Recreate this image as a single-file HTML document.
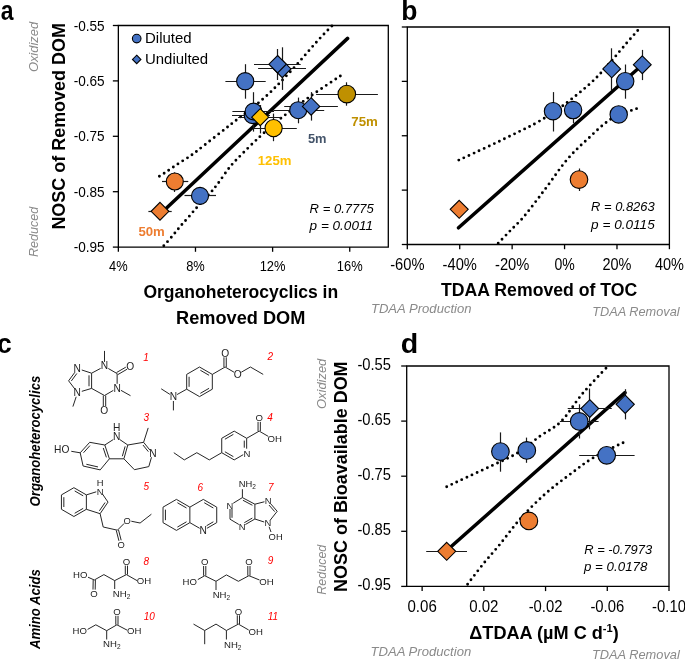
<!DOCTYPE html><html><head><meta charset="utf-8"><style>html,body{margin:0;padding:0;background:#fff;width:685px;height:660px;overflow:hidden}svg{display:block;font-family:"Liberation Sans",sans-serif;will-change:transform}</style></head><body>
<svg width="685" height="660" viewBox="0 0 685 660">
<rect width="685" height="660" fill="#fff"/>
<text transform="translate(0.73 19.9) scale(0.85 1)" x="0" y="0" font-size="27" font-weight="bold">a</text>
<text transform="translate(401.15 19.8) scale(0.98 1)" x="0" y="0" font-size="27" font-weight="bold">b</text>
<text transform="translate(-3 353.2) scale(0.98 1)" x="0" y="0" font-size="27" font-weight="bold">c</text>
<text transform="translate(400.72 352.5) scale(1.06 1)" x="0" y="0" font-size="27" font-weight="bold">d</text>
<path d="M118.35 25.5H388.3V247.1H118.35Z" fill="none" stroke="#000" stroke-width="1.3"/>
<line x1="112.85" y1="25.5" x2="118.35" y2="25.5" stroke="#000" stroke-width="1.3"/>
<line x1="112.85" y1="80.9" x2="118.35" y2="80.9" stroke="#000" stroke-width="1.3"/>
<line x1="112.85" y1="136.3" x2="118.35" y2="136.3" stroke="#000" stroke-width="1.3"/>
<line x1="112.85" y1="191.7" x2="118.35" y2="191.7" stroke="#000" stroke-width="1.3"/>
<line x1="112.85" y1="247.1" x2="118.35" y2="247.1" stroke="#000" stroke-width="1.3"/>
<line x1="118.35" y1="247.1" x2="118.35" y2="251.8" stroke="#000" stroke-width="1.3"/>
<line x1="195.48" y1="247.1" x2="195.48" y2="251.8" stroke="#000" stroke-width="1.3"/>
<line x1="272.61" y1="247.1" x2="272.61" y2="251.8" stroke="#000" stroke-width="1.3"/>
<line x1="349.74" y1="247.1" x2="349.74" y2="251.8" stroke="#000" stroke-width="1.3"/>
<text x="104.7" y="30.5" font-size="14.3" text-anchor="end" textLength="31" lengthAdjust="spacingAndGlyphs">-0.55</text>
<text x="104.7" y="85.9" font-size="14.3" text-anchor="end" textLength="31" lengthAdjust="spacingAndGlyphs">-0.65</text>
<text x="104.7" y="141.3" font-size="14.3" text-anchor="end" textLength="31" lengthAdjust="spacingAndGlyphs">-0.75</text>
<text x="104.7" y="196.7" font-size="14.3" text-anchor="end" textLength="31" lengthAdjust="spacingAndGlyphs">-0.85</text>
<text x="104.7" y="252.1" font-size="14.3" text-anchor="end" textLength="31" lengthAdjust="spacingAndGlyphs">-0.95</text>
<text x="118.35" y="271.3" font-size="14.3" text-anchor="middle" textLength="18.6" lengthAdjust="spacingAndGlyphs">4%</text>
<text x="195.48" y="271.3" font-size="14.3" text-anchor="middle" textLength="18.6" lengthAdjust="spacingAndGlyphs">8%</text>
<text x="272.61" y="271.3" font-size="14.3" text-anchor="middle" textLength="25.8" lengthAdjust="spacingAndGlyphs">12%</text>
<text x="349.74" y="271.3" font-size="14.3" text-anchor="middle" textLength="25.8" lengthAdjust="spacingAndGlyphs">16%</text>
<text x="64.8" y="229.6" font-size="18.8" font-weight="bold" textLength="206.5" lengthAdjust="spacingAndGlyphs" transform="rotate(-90 64.8 229.6)">NOSC of Removed DOM</text>
<text x="38.2" y="72.1" font-size="13.5" font-style="italic" fill="#8a8a8a" textLength="50.2" lengthAdjust="spacingAndGlyphs" transform="rotate(-90 38.2 72.1)">Oxidized</text>
<text x="38.4" y="257" font-size="13.5" font-style="italic" fill="#8a8a8a" textLength="50.2" lengthAdjust="spacingAndGlyphs" transform="rotate(-90 38.4 257)">Reduced</text>
<text x="240.8" y="298.1" font-size="18.8" text-anchor="middle" font-weight="bold" textLength="194.8" lengthAdjust="spacingAndGlyphs">Organoheterocyclics in</text>
<text x="240.7" y="323.9" font-size="18.8" text-anchor="middle" font-weight="bold" textLength="129.3" lengthAdjust="spacingAndGlyphs">Removed DOM</text>
<circle cx="136.7" cy="38.6" r="4.3" fill="#4472C4" stroke="#000" stroke-width="1.1"/>
<path d="M136.7 55.2L140.9 59.4L136.7 63.6L132.5 59.4Z" fill="#4472C4" stroke="#000" stroke-width="1.1"/>
<text x="145" y="43.3" font-size="15.3" textLength="46.6" lengthAdjust="spacingAndGlyphs">Diluted</text>
<text x="145" y="64.4" font-size="15.3" textLength="63.2" lengthAdjust="spacingAndGlyphs">Undiulted</text>
<text x="309.6" y="212.7" font-size="13.5" font-style="italic" textLength="64.2" lengthAdjust="spacingAndGlyphs">R = 0.7775</text>
<text x="309.6" y="230.2" font-size="13.5" font-style="italic" textLength="63.4" lengthAdjust="spacingAndGlyphs">p = 0.0011</text>
<path d="M159.4 176.3 C160.42 175.65 163.3 173.87 165.5 172.4 C167.7 170.93 170.12 169.18 172.6 167.5 C175.08 165.82 177.63 164.1 180.4 162.3 C183.17 160.5 186.42 158.6 189.2 156.7 C191.98 154.8 190.3 156.18 197.1 150.9 C203.9 145.62 218.95 133.72 230 125 C241.05 116.28 253.4 107.43 263.4 98.6 C273.4 89.77 281.05 81.53 290 72 C298.95 62.47 309.88 49.32 317.1 41.4 C324.32 33.48 330.6 27.32 333.3 24.5" fill="none" stroke="#000" stroke-width="2.9" stroke-linecap="round" stroke-dasharray="0 5.6"/>
<path d="M163.8 245.8 C165.27 244.13 169.83 239.07 172.6 235.8 C175.37 232.53 177.78 229.27 180.4 226.2 C183.02 223.13 185.37 220.75 188.3 217.4 C191.23 214.05 194.2 210.33 198 206.1 C201.8 201.87 207.75 195.8 211.1 192 C214.45 188.2 215.03 187.38 218.1 183.3 C221.17 179.22 226 171.88 229.5 167.5 C233 163.12 234.02 162.17 239.1 157 C244.18 151.83 253.18 142.83 260 136.5 C266.82 130.17 271.67 125.67 280 119 C288.33 112.33 299.25 104.13 310 96.5 C320.75 88.87 338.75 77.08 344.5 73.2" fill="none" stroke="#000" stroke-width="2.9" stroke-linecap="round" stroke-dasharray="0 5.6"/>
<line x1="161.5" y1="212.7" x2="347.6" y2="38.4" stroke="#000" stroke-width="3.5" stroke-linecap="round"/>
<line x1="148.4" y1="211.5" x2="171.7" y2="211.5" stroke="#1a1a1a" stroke-width="1.2"/>
<line x1="160.5" y1="205" x2="160.5" y2="217" stroke="#1a1a1a" stroke-width="1.2"/>
<line x1="162" y1="181.5" x2="188.3" y2="181.5" stroke="#1a1a1a" stroke-width="1.2"/>
<line x1="174.5" y1="172.4" x2="174.5" y2="192" stroke="#1a1a1a" stroke-width="1.2"/>
<line x1="184.5" y1="195.5" x2="216" y2="195.5" stroke="#1a1a1a" stroke-width="1.2"/>
<line x1="200.5" y1="188" x2="200.5" y2="204" stroke="#1a1a1a" stroke-width="1.2"/>
<line x1="225.4" y1="81.5" x2="265.7" y2="81.5" stroke="#1a1a1a" stroke-width="1.2"/>
<line x1="245.5" y1="64.2" x2="245.5" y2="98.7" stroke="#1a1a1a" stroke-width="1.2"/>
<line x1="254" y1="64.5" x2="300.7" y2="64.5" stroke="#1a1a1a" stroke-width="1.2"/>
<line x1="277.5" y1="49" x2="277.5" y2="80" stroke="#1a1a1a" stroke-width="1.2"/>
<line x1="258.1" y1="68.5" x2="306" y2="68.5" stroke="#1a1a1a" stroke-width="1.2"/>
<line x1="282.5" y1="47.3" x2="282.5" y2="89.9" stroke="#1a1a1a" stroke-width="1.2"/>
<line x1="232.4" y1="111.5" x2="274" y2="111.5" stroke="#1a1a1a" stroke-width="1.2"/>
<line x1="253.5" y1="92.2" x2="253.5" y2="131.6" stroke="#1a1a1a" stroke-width="1.2"/>
<line x1="232" y1="115.5" x2="270" y2="115.5" stroke="#1a1a1a" stroke-width="1.2"/>
<line x1="238.1" y1="117.5" x2="281" y2="117.5" stroke="#1a1a1a" stroke-width="1.2"/>
<line x1="260.5" y1="105" x2="260.5" y2="133.4" stroke="#1a1a1a" stroke-width="1.2"/>
<line x1="253.4" y1="128.5" x2="296.8" y2="128.5" stroke="#1a1a1a" stroke-width="1.2"/>
<line x1="273.5" y1="113.6" x2="273.5" y2="141.2" stroke="#1a1a1a" stroke-width="1.2"/>
<line x1="273.3" y1="110.5" x2="324.2" y2="110.5" stroke="#1a1a1a" stroke-width="1.2"/>
<line x1="298.5" y1="97.6" x2="298.5" y2="123.3" stroke="#1a1a1a" stroke-width="1.2"/>
<line x1="284.2" y1="106.5" x2="337.9" y2="106.5" stroke="#1a1a1a" stroke-width="1.2"/>
<line x1="311.5" y1="92.1" x2="311.5" y2="120.6" stroke="#1a1a1a" stroke-width="1.2"/>
<line x1="316.1" y1="94.5" x2="377.9" y2="94.5" stroke="#1a1a1a" stroke-width="1.2"/>
<line x1="346.5" y1="82.3" x2="346.5" y2="105.7" stroke="#1a1a1a" stroke-width="1.2"/>
<path d="M160 202.4L168.9 211.3L160 220.2L151.1 211.3Z" fill="#ED7D31" stroke="#000" stroke-width="1.1"/>
<circle cx="174.8" cy="181.5" r="8.5" fill="#ED7D31" stroke="#000" stroke-width="1.1"/>
<circle cx="200" cy="195.9" r="8.5" fill="#4472C4" stroke="#000" stroke-width="1.1"/>
<circle cx="245.2" cy="81.2" r="8.6" fill="#4472C4" stroke="#000" stroke-width="1.1"/>
<path d="M282.3 60.2L291 68.9L282.3 77.6L273.6 68.9Z" fill="#4472C4" stroke="#000" stroke-width="1.1"/>
<path d="M277.6 55.5L286.3 64.2L277.6 72.9L268.9 64.2Z" fill="#4472C4" stroke="#000" stroke-width="1.1"/>
<circle cx="252.6" cy="115.2" r="8.4" fill="#4472C4" stroke="#000" stroke-width="1.1"/>
<circle cx="253.5" cy="111.5" r="8.4" fill="#4472C4" stroke="#000" stroke-width="1.1"/>
<path d="M260.2 108.7L268.7 117.2L260.2 125.7L251.7 117.2Z" fill="#FFC000" stroke="#000" stroke-width="1.1"/>
<circle cx="273.6" cy="128.1" r="8.6" fill="#FFC000" stroke="#000" stroke-width="1.1"/>
<circle cx="298.2" cy="110.2" r="8.5" fill="#4472C4" stroke="#000" stroke-width="1.1"/>
<path d="M311.1 97.7L319.8 106.4L311.1 115.1L302.4 106.4Z" fill="#4472C4" stroke="#000" stroke-width="1.1"/>
<circle cx="346.8" cy="94.1" r="8.8" fill="#BF9000" stroke="#000" stroke-width="1.1"/>
<text x="138.4" y="235.7" font-size="13" font-weight="bold" fill="#ED7D31" textLength="26.4" lengthAdjust="spacingAndGlyphs">50m</text>
<text x="257.8" y="165.3" font-size="13" font-weight="bold" fill="#FFC000" textLength="33.6" lengthAdjust="spacingAndGlyphs">125m</text>
<text x="307.9" y="143" font-size="13" font-weight="bold" fill="#44546A" textLength="18.6" lengthAdjust="spacingAndGlyphs">5m</text>
<text x="351.3" y="125.8" font-size="13" font-weight="bold" fill="#BF9000" textLength="26.6" lengthAdjust="spacingAndGlyphs">75m</text>
<path d="M407.3 27H669.4V244.5H407.3Z" fill="none" stroke="#000" stroke-width="1.3"/>
<line x1="401.8" y1="27" x2="407.3" y2="27" stroke="#000" stroke-width="1.3"/>
<line x1="401.8" y1="81.38" x2="407.3" y2="81.38" stroke="#000" stroke-width="1.3"/>
<line x1="401.8" y1="135.75" x2="407.3" y2="135.75" stroke="#000" stroke-width="1.3"/>
<line x1="401.8" y1="190.12" x2="407.3" y2="190.12" stroke="#000" stroke-width="1.3"/>
<line x1="401.8" y1="244.5" x2="407.3" y2="244.5" stroke="#000" stroke-width="1.3"/>
<line x1="407.3" y1="244.5" x2="407.3" y2="249.2" stroke="#000" stroke-width="1.3"/>
<line x1="459.72" y1="244.5" x2="459.72" y2="249.2" stroke="#000" stroke-width="1.3"/>
<line x1="512.14" y1="244.5" x2="512.14" y2="249.2" stroke="#000" stroke-width="1.3"/>
<line x1="564.56" y1="244.5" x2="564.56" y2="249.2" stroke="#000" stroke-width="1.3"/>
<line x1="616.98" y1="244.5" x2="616.98" y2="249.2" stroke="#000" stroke-width="1.3"/>
<line x1="669.4" y1="244.5" x2="669.4" y2="249.2" stroke="#000" stroke-width="1.3"/>
<text x="407.3" y="269.9" font-size="15.6" text-anchor="middle" textLength="34.3" lengthAdjust="spacingAndGlyphs">-60%</text>
<text x="459.72" y="269.9" font-size="15.6" text-anchor="middle" textLength="34.3" lengthAdjust="spacingAndGlyphs">-40%</text>
<text x="512.14" y="269.9" font-size="15.6" text-anchor="middle" textLength="34.3" lengthAdjust="spacingAndGlyphs">-20%</text>
<text x="564.56" y="269.9" font-size="15.6" text-anchor="middle" textLength="20.3" lengthAdjust="spacingAndGlyphs">0%</text>
<text x="616.98" y="269.9" font-size="15.6" text-anchor="middle" textLength="29" lengthAdjust="spacingAndGlyphs">20%</text>
<text x="669.4" y="269.9" font-size="15.6" text-anchor="middle" textLength="29" lengthAdjust="spacingAndGlyphs">40%</text>
<text x="539.2" y="295.9" font-size="18.8" text-anchor="middle" font-weight="bold" textLength="196.3" lengthAdjust="spacingAndGlyphs">TDAA Removed of TOC</text>
<text x="370.9" y="313.4" font-size="13" font-style="italic" fill="#8a8a8a" textLength="100.7" lengthAdjust="spacingAndGlyphs">TDAA Production</text>
<text x="592.3" y="316.2" font-size="13" font-style="italic" fill="#8a8a8a" textLength="87.3" lengthAdjust="spacingAndGlyphs">TDAA Removal</text>
<text x="591.1" y="210.8" font-size="13.5" font-style="italic" textLength="63.6" lengthAdjust="spacingAndGlyphs">R = 0.8263</text>
<text x="591.1" y="228.8" font-size="13.5" font-style="italic" textLength="63.6" lengthAdjust="spacingAndGlyphs">p = 0.0115</text>
<path d="M458.8 160.1 C461.57 158.83 469.13 155.42 475.4 152.5 C481.67 149.58 489.25 146.02 496.4 142.6 C503.55 139.18 511.15 135.57 518.3 132 C525.45 128.43 531.88 125.58 539.3 121.2 C546.72 116.82 553.4 112.85 562.8 105.7 C572.2 98.55 584.93 88.88 595.7 78.3 C606.47 67.72 619.98 50.65 627.4 42.2 C634.82 33.75 638.07 30.03 640.2 27.6" fill="none" stroke="#000" stroke-width="2.9" stroke-linecap="round" stroke-dasharray="0 5.6"/>
<path d="M498.2 243.2 C500.17 241.17 505.92 235.2 510 231 C514.08 226.8 518.53 222.75 522.7 218 C526.87 213.25 530.92 207.77 535 202.5 C539.08 197.23 541.85 193.55 547.2 186.4 C552.55 179.25 560.28 167.57 567.1 159.6 C573.92 151.63 580.7 145.42 588.1 138.6 C595.5 131.78 603.12 123.8 611.5 118.7 C619.88 113.6 633.92 109.78 638.4 108" fill="none" stroke="#000" stroke-width="2.9" stroke-linecap="round" stroke-dasharray="0 5.6"/>
<line x1="458.5" y1="227.8" x2="640.5" y2="66.5" stroke="#000" stroke-width="3.5" stroke-linecap="round"/>
<line x1="553.5" y1="92.1" x2="553.5" y2="131.5" stroke="#1a1a1a" stroke-width="1.2"/>
<line x1="573.5" y1="101.3" x2="573.5" y2="123.2" stroke="#1a1a1a" stroke-width="1.2"/>
<line x1="625.5" y1="64.5" x2="625.5" y2="98.7" stroke="#1a1a1a" stroke-width="1.2"/>
<line x1="611.5" y1="48.3" x2="611.5" y2="90" stroke="#1a1a1a" stroke-width="1.2"/>
<line x1="642.5" y1="49.9" x2="642.5" y2="80.1" stroke="#1a1a1a" stroke-width="1.2"/>
<line x1="579.5" y1="168.5" x2="579.5" y2="191" stroke="#1a1a1a" stroke-width="1.2"/>
<path d="M459.2 200.3L468.2 209.3L459.2 218.3L450.2 209.3Z" fill="#ED7D31" stroke="#000" stroke-width="1.1"/>
<circle cx="579" cy="179.6" r="8.8" fill="#ED7D31" stroke="#000" stroke-width="1.1"/>
<circle cx="553" cy="111.2" r="8.7" fill="#4472C4" stroke="#000" stroke-width="1.1"/>
<circle cx="573.1" cy="110.1" r="8.7" fill="#4472C4" stroke="#000" stroke-width="1.1"/>
<circle cx="618.7" cy="114.4" r="8.7" fill="#4472C4" stroke="#000" stroke-width="1.1"/>
<path d="M611.7 60L620.6 68.9L611.7 77.8L602.8 68.9Z" fill="#4472C4" stroke="#000" stroke-width="1.1"/>
<circle cx="625.2" cy="81.2" r="8.7" fill="#4472C4" stroke="#000" stroke-width="1.1"/>
<path d="M642.3 55.8L651.2 64.7L642.3 73.6L633.4 64.7Z" fill="#4472C4" stroke="#000" stroke-width="1.1"/>
<path d="M406.7 366H669V586.4H406.7Z" fill="none" stroke="#000" stroke-width="1.3"/>
<line x1="401.2" y1="366" x2="406.7" y2="366" stroke="#000" stroke-width="1.3"/>
<line x1="401.2" y1="421.1" x2="406.7" y2="421.1" stroke="#000" stroke-width="1.3"/>
<line x1="401.2" y1="476.2" x2="406.7" y2="476.2" stroke="#000" stroke-width="1.3"/>
<line x1="401.2" y1="531.3" x2="406.7" y2="531.3" stroke="#000" stroke-width="1.3"/>
<line x1="401.2" y1="586.4" x2="406.7" y2="586.4" stroke="#000" stroke-width="1.3"/>
<line x1="422.13" y1="586.4" x2="422.13" y2="591.1" stroke="#000" stroke-width="1.3"/>
<line x1="483.85" y1="586.4" x2="483.85" y2="591.1" stroke="#000" stroke-width="1.3"/>
<line x1="545.56" y1="586.4" x2="545.56" y2="591.1" stroke="#000" stroke-width="1.3"/>
<line x1="607.28" y1="586.4" x2="607.28" y2="591.1" stroke="#000" stroke-width="1.3"/>
<line x1="669" y1="586.4" x2="669" y2="591.1" stroke="#000" stroke-width="1.3"/>
<text x="391" y="369.7" font-size="15.6" text-anchor="end" textLength="33.6" lengthAdjust="spacingAndGlyphs">-0.55</text>
<text x="391" y="424.8" font-size="15.6" text-anchor="end" textLength="33.6" lengthAdjust="spacingAndGlyphs">-0.65</text>
<text x="391" y="479.9" font-size="15.6" text-anchor="end" textLength="33.6" lengthAdjust="spacingAndGlyphs">-0.75</text>
<text x="391" y="535" font-size="15.6" text-anchor="end" textLength="33.6" lengthAdjust="spacingAndGlyphs">-0.85</text>
<text x="391" y="590.1" font-size="15.6" text-anchor="end" textLength="33.6" lengthAdjust="spacingAndGlyphs">-0.95</text>
<text x="422.13" y="611.8" font-size="15.6" text-anchor="middle" textLength="29.3" lengthAdjust="spacingAndGlyphs">0.06</text>
<text x="483.85" y="611.8" font-size="15.6" text-anchor="middle" textLength="29.3" lengthAdjust="spacingAndGlyphs">0.02</text>
<text x="545.56" y="611.8" font-size="15.6" text-anchor="middle" textLength="33.8" lengthAdjust="spacingAndGlyphs">-0.02</text>
<text x="607.28" y="611.8" font-size="15.6" text-anchor="middle" textLength="33.8" lengthAdjust="spacingAndGlyphs">-0.06</text>
<text x="669" y="611.8" font-size="15.6" text-anchor="middle" textLength="33.8" lengthAdjust="spacingAndGlyphs">-0.10</text>
<text x="346.9" y="591.9" font-size="18.8" font-weight="bold" textLength="230.5" lengthAdjust="spacingAndGlyphs" transform="rotate(-90 346.9 591.9)">NOSC of Bioavailable DOM</text>
<text x="325.7" y="408.9" font-size="13.5" font-style="italic" fill="#8a8a8a" textLength="50.2" lengthAdjust="spacingAndGlyphs" transform="rotate(-90 325.7 408.9)">Oxidized</text>
<text x="325.9" y="594.7" font-size="13.5" font-style="italic" fill="#8a8a8a" textLength="50" lengthAdjust="spacingAndGlyphs" transform="rotate(-90 325.9 594.7)">Reduced</text>
<text x="469.3" y="638.6" font-size="18.8" font-weight="bold" textLength="149.5" lengthAdjust="spacingAndGlyphs">ΔTDAA (µM C d<tspan dy="-7" font-size="11.5">-1</tspan><tspan dy="7">)</tspan></text>
<text x="370.5" y="655.5" font-size="13" font-style="italic" fill="#8a8a8a" textLength="100.7" lengthAdjust="spacingAndGlyphs">TDAA Production</text>
<text x="592" y="659.2" font-size="13" font-style="italic" fill="#8a8a8a" textLength="87.8" lengthAdjust="spacingAndGlyphs">TDAA Removal</text>
<text x="584.3" y="553.7" font-size="13.5" font-style="italic" textLength="67.8" lengthAdjust="spacingAndGlyphs">R = -0.7973</text>
<text x="584" y="570.8" font-size="13.5" font-style="italic" textLength="63.4" lengthAdjust="spacingAndGlyphs">p = 0.0178</text>
<path d="M446.7 486.8 C448.97 485.72 453.08 483.68 460.3 480.3 C467.52 476.92 480.58 470.98 490 466.5 C499.42 462.02 508.47 458.45 516.8 453.4 C525.13 448.35 532.6 441.53 540 436.2 C547.4 430.87 554.15 428.45 561.2 421.4 C568.25 414.35 574.62 403 582.3 393.9 C589.98 384.8 603.13 371.32 607.3 366.8" fill="none" stroke="#000" stroke-width="2.9" stroke-linecap="round" stroke-dasharray="0 5.6"/>
<path d="M467.6 584.2 C470.33 580.67 478.65 569.6 484 563 C489.35 556.4 493.6 552.02 499.7 544.6 C505.8 537.18 513.05 526.92 520.6 518.5 C528.15 510.08 536.88 501.37 545 494.1 C553.12 486.83 561.18 481 569.3 474.9 C577.42 468.8 584.33 463.07 593.7 457.5 C603.07 451.93 620.2 444.17 625.5 441.5" fill="none" stroke="#000" stroke-width="2.9" stroke-linecap="round" stroke-dasharray="0 5.6"/>
<line x1="446.7" y1="550.5" x2="625" y2="392.6" stroke="#000" stroke-width="3.5" stroke-linecap="round"/>
<line x1="426.2" y1="551.5" x2="467" y2="551.5" stroke="#1a1a1a" stroke-width="1.2"/>
<line x1="500.5" y1="432.4" x2="500.5" y2="471.7" stroke="#1a1a1a" stroke-width="1.2"/>
<line x1="526.5" y1="437.6" x2="526.5" y2="462.8" stroke="#1a1a1a" stroke-width="1.2"/>
<line x1="559.9" y1="421.5" x2="598.6" y2="421.5" stroke="#1a1a1a" stroke-width="1.2"/>
<line x1="579.5" y1="404.3" x2="579.5" y2="438.5" stroke="#1a1a1a" stroke-width="1.2"/>
<line x1="567.7" y1="408.5" x2="611.8" y2="408.5" stroke="#1a1a1a" stroke-width="1.2"/>
<line x1="589.5" y1="388.5" x2="589.5" y2="429.3" stroke="#1a1a1a" stroke-width="1.2"/>
<line x1="625.5" y1="389.2" x2="625.5" y2="419.4" stroke="#1a1a1a" stroke-width="1.2"/>
<line x1="579.2" y1="455.5" x2="634.6" y2="455.5" stroke="#1a1a1a" stroke-width="1.2"/>
<line x1="528.5" y1="512" x2="528.5" y2="530" stroke="#1a1a1a" stroke-width="1.2"/>
<path d="M446.7 542.3L455.7 551.3L446.7 560.3L437.7 551.3Z" fill="#ED7D31" stroke="#000" stroke-width="1.1"/>
<circle cx="528.9" cy="520.9" r="8.8" fill="#ED7D31" stroke="#000" stroke-width="1.1"/>
<circle cx="500.4" cy="451.6" r="8.8" fill="#4472C4" stroke="#000" stroke-width="1.1"/>
<circle cx="526.8" cy="450.4" r="8.8" fill="#4472C4" stroke="#000" stroke-width="1.1"/>
<circle cx="579.2" cy="421.4" r="8.8" fill="#4472C4" stroke="#000" stroke-width="1.1"/>
<path d="M589.8 399.7L598.7 408.6L589.8 417.5L580.9 408.6Z" fill="#4472C4" stroke="#000" stroke-width="1.1"/>
<path d="M625.2 395.2L634.3 404.3L625.2 413.4L616.1 404.3Z" fill="#4472C4" stroke="#000" stroke-width="1.1"/>
<circle cx="606.7" cy="455.3" r="8.8" fill="#4472C4" stroke="#000" stroke-width="1.1"/>
<text x="39.6" y="506.4" font-size="15" font-weight="bold" font-style="italic" textLength="130.7" lengthAdjust="spacingAndGlyphs" transform="rotate(-90 39.6 506.4)">Organoheterocyclics</text>
<text x="40.3" y="649.1" font-size="15" font-weight="bold" font-style="italic" textLength="80" lengthAdjust="spacingAndGlyphs" transform="rotate(-90 40.3 649.1)">Amino Acids</text>
<line x1="104.5" y1="361.9" x2="104.5" y2="350.9" stroke="#262626" stroke-width="1"/>
<line x1="108.31" y1="368.5" x2="117.14" y2="373.6" stroke="#262626" stroke-width="1"/>
<line x1="117.75" y1="374.64" x2="127" y2="369.25" stroke="#262626" stroke-width="1"/>
<line x1="116.54" y1="372.56" x2="125.79" y2="367.18" stroke="#262626" stroke-width="1"/>
<line x1="117.14" y1="373.6" x2="117.14" y2="383.8" stroke="#262626" stroke-width="1"/>
<line x1="120.98" y1="390.35" x2="130.5" y2="395.7" stroke="#262626" stroke-width="1"/>
<line x1="113.33" y1="390.4" x2="104.5" y2="395.5" stroke="#262626" stroke-width="1"/>
<line x1="103.3" y1="395.5" x2="103.3" y2="406" stroke="#262626" stroke-width="1"/>
<line x1="105.7" y1="395.5" x2="105.7" y2="406" stroke="#262626" stroke-width="1"/>
<line x1="104.5" y1="395.5" x2="91.6" y2="388.4" stroke="#262626" stroke-width="1"/>
<line x1="91.6" y1="388.4" x2="91.6" y2="373.2" stroke="#262626" stroke-width="1"/>
<line x1="89" y1="386.27" x2="89" y2="375.33" stroke="#262626" stroke-width="1"/>
<line x1="91.6" y1="373.2" x2="100.62" y2="368.38" stroke="#262626" stroke-width="1"/>
<line x1="91.6" y1="373.2" x2="81.78" y2="369.97" stroke="#262626" stroke-width="1"/>
<line x1="74.99" y1="372.14" x2="68.6" y2="380.8" stroke="#262626" stroke-width="1"/>
<line x1="76.84" y1="373.51" x2="71.35" y2="380.95" stroke="#262626" stroke-width="1"/>
<line x1="68.6" y1="380.8" x2="74.93" y2="389.1" stroke="#262626" stroke-width="1"/>
<line x1="81.81" y1="391.34" x2="91.6" y2="388.4" stroke="#262626" stroke-width="1"/>
<line x1="76.2" y1="396.77" x2="72.9" y2="406.6" stroke="#262626" stroke-width="1"/>
<text x="104.5" y="369.01" font-size="10.2" text-anchor="middle" fill="#222">N</text>
<text x="117.3" y="391.51" font-size="10.2" text-anchor="middle" fill="#222">N</text>
<text x="77.3" y="371.91" font-size="10.2" text-anchor="middle" fill="#222">N</text>
<text x="77.2" y="396.01" font-size="10.2" text-anchor="middle" fill="#222">N</text>
<text x="130.3" y="369.51" font-size="10.2" text-anchor="middle" fill="#222">O</text>
<text x="104.2" y="414.01" font-size="10.2" text-anchor="middle" fill="#222">O</text>
<text x="146.1" y="361.39" font-size="10" font-style="italic" text-anchor="middle" fill="#FF0000">1</text>
<line x1="199.5" y1="367" x2="212.32" y2="374.4" stroke="#262626" stroke-width="1"/>
<line x1="212.32" y1="374.4" x2="212.32" y2="389.2" stroke="#262626" stroke-width="1"/>
<line x1="212.32" y1="389.2" x2="199.5" y2="396.6" stroke="#262626" stroke-width="1"/>
<line x1="199.5" y1="396.6" x2="186.68" y2="389.2" stroke="#262626" stroke-width="1"/>
<line x1="186.68" y1="389.2" x2="186.68" y2="374.4" stroke="#262626" stroke-width="1"/>
<line x1="186.68" y1="374.4" x2="199.5" y2="367" stroke="#262626" stroke-width="1"/>
<line x1="189.08" y1="376.77" x2="189.08" y2="386.83" stroke="#262626" stroke-width="1"/>
<line x1="200.35" y1="370.26" x2="209.07" y2="375.29" stroke="#262626" stroke-width="1"/>
<line x1="209.07" y1="388.31" x2="200.35" y2="393.34" stroke="#262626" stroke-width="1"/>
<line x1="186.68" y1="389.2" x2="177.07" y2="394.56" stroke="#262626" stroke-width="1"/>
<line x1="169.86" y1="394.34" x2="161.2" y2="388.8" stroke="#262626" stroke-width="1"/>
<line x1="173.4" y1="401" x2="173.4" y2="410.4" stroke="#262626" stroke-width="1"/>
<text x="173.4" y="400.11" font-size="10.2" text-anchor="middle" fill="#222">N</text>
<line x1="212.32" y1="374.4" x2="225.1" y2="367" stroke="#262626" stroke-width="1"/>
<line x1="226.25" y1="367" x2="226.25" y2="357.3" stroke="#262626" stroke-width="1"/>
<line x1="223.95" y1="367" x2="223.95" y2="357.3" stroke="#262626" stroke-width="1"/>
<text x="225.1" y="356.51" font-size="10.2" text-anchor="middle" fill="#222">O</text>
<line x1="225.1" y1="367" x2="233.97" y2="372.18" stroke="#262626" stroke-width="1"/>
<text x="237.6" y="377.81" font-size="10.2" text-anchor="middle" fill="#222">O</text>
<line x1="241.25" y1="372.22" x2="250.4" y2="367" stroke="#262626" stroke-width="1"/>
<line x1="250.4" y1="367" x2="263.2" y2="374.4" stroke="#262626" stroke-width="1"/>
<text x="270.3" y="360.49" font-size="10" font-style="italic" text-anchor="middle" fill="#FF0000">2</text>
<line x1="80.2" y1="452.8" x2="89.7" y2="442.3" stroke="#262626" stroke-width="1"/>
<line x1="89.7" y1="442.3" x2="104.8" y2="445" stroke="#262626" stroke-width="1"/>
<line x1="104.8" y1="445" x2="109.4" y2="458.8" stroke="#262626" stroke-width="1"/>
<line x1="109.4" y1="458.8" x2="100.2" y2="469.9" stroke="#262626" stroke-width="1"/>
<line x1="100.2" y1="469.9" x2="83.1" y2="466" stroke="#262626" stroke-width="1"/>
<line x1="83.1" y1="466" x2="80.2" y2="452.8" stroke="#262626" stroke-width="1"/>
<line x1="83.5" y1="452.73" x2="89.96" y2="445.59" stroke="#262626" stroke-width="1"/>
<line x1="103.26" y1="447.97" x2="106.39" y2="457.35" stroke="#262626" stroke-width="1"/>
<line x1="98" y1="466.94" x2="86.37" y2="464.28" stroke="#262626" stroke-width="1"/>
<line x1="104.8" y1="445" x2="113.24" y2="439.57" stroke="#262626" stroke-width="1"/>
<line x1="119.91" y1="439.65" x2="127.8" y2="445" stroke="#262626" stroke-width="1"/>
<line x1="127.8" y1="445" x2="123.9" y2="458.8" stroke="#262626" stroke-width="1"/>
<line x1="125.14" y1="446.33" x2="122.33" y2="456.27" stroke="#262626" stroke-width="1"/>
<line x1="109.4" y1="458.8" x2="123.9" y2="458.8" stroke="#262626" stroke-width="1"/>
<line x1="127.8" y1="445" x2="143.6" y2="442.3" stroke="#262626" stroke-width="1"/>
<line x1="143.6" y1="442.3" x2="148.2" y2="427.9" stroke="#262626" stroke-width="1"/>
<line x1="143.6" y1="442.3" x2="150.08" y2="450.29" stroke="#262626" stroke-width="1"/>
<line x1="142.97" y1="445.02" x2="148.37" y2="451.68" stroke="#262626" stroke-width="1"/>
<line x1="151.49" y1="457.24" x2="148.8" y2="466.6" stroke="#262626" stroke-width="1"/>
<line x1="148.8" y1="466.6" x2="134.4" y2="469.7" stroke="#262626" stroke-width="1"/>
<line x1="134.4" y1="469.7" x2="123.9" y2="458.8" stroke="#262626" stroke-width="1"/>
<line x1="71.3" y1="451.3" x2="80.2" y2="452.8" stroke="#262626" stroke-width="1"/>
<text x="116.6" y="439.81" font-size="10.2" text-anchor="middle" fill="#222">N</text>
<text x="116.6" y="431.21" font-size="10.2" text-anchor="middle" fill="#222">H</text>
<text x="152.9" y="456.91" font-size="10.2" text-anchor="middle" fill="#222">N</text>
<text x="69.4" y="453.31" font-size="10.2" text-anchor="end" fill="#222">HO</text>
<text x="146.4" y="420.59" font-size="10" font-style="italic" text-anchor="middle" fill="#FF0000">3</text>
<line x1="234.2" y1="431.1" x2="246.67" y2="438.3" stroke="#262626" stroke-width="1"/>
<line x1="246.67" y1="438.3" x2="246.67" y2="448.7" stroke="#262626" stroke-width="1"/>
<line x1="243.21" y1="454.7" x2="234.2" y2="459.9" stroke="#262626" stroke-width="1"/>
<line x1="234.2" y1="459.9" x2="221.73" y2="452.7" stroke="#262626" stroke-width="1"/>
<line x1="221.73" y1="452.7" x2="221.73" y2="438.3" stroke="#262626" stroke-width="1"/>
<line x1="221.73" y1="438.3" x2="234.2" y2="431.1" stroke="#262626" stroke-width="1"/>
<line x1="224.92" y1="439.23" x2="233.4" y2="434.33" stroke="#262626" stroke-width="1"/>
<line x1="244.27" y1="440.6" x2="244.27" y2="447.7" stroke="#262626" stroke-width="1"/>
<line x1="233.4" y1="456.67" x2="224.92" y2="451.77" stroke="#262626" stroke-width="1"/>
<text x="246.97" y="456.6" font-size="9.6" text-anchor="middle" fill="#222">N</text>
<line x1="246.67" y1="438.3" x2="259.2" y2="431.1" stroke="#262626" stroke-width="1"/>
<line x1="260.35" y1="431.1" x2="260.35" y2="421.9" stroke="#262626" stroke-width="1"/>
<line x1="258.05" y1="431.1" x2="258.05" y2="421.9" stroke="#262626" stroke-width="1"/>
<text x="259.2" y="420.9" font-size="9.6" text-anchor="middle" fill="#222">O</text>
<line x1="259.2" y1="431.1" x2="268.27" y2="436.39" stroke="#262626" stroke-width="1"/>
<text x="267.6" y="441.8" font-size="9.6" fill="#222">OH</text>
<line x1="221.73" y1="452.7" x2="209.3" y2="459.9" stroke="#262626" stroke-width="1"/>
<line x1="209.3" y1="459.9" x2="196.8" y2="452.7" stroke="#262626" stroke-width="1"/>
<line x1="196.8" y1="452.7" x2="184.3" y2="459.9" stroke="#262626" stroke-width="1"/>
<line x1="184.3" y1="459.9" x2="173.8" y2="452.7" stroke="#262626" stroke-width="1"/>
<text x="270.1" y="420.79" font-size="10" font-style="italic" text-anchor="middle" fill="#FF0000">4</text>
<line x1="73.9" y1="487.7" x2="86.37" y2="494.9" stroke="#262626" stroke-width="1"/>
<line x1="86.37" y1="494.9" x2="86.37" y2="509.3" stroke="#262626" stroke-width="1"/>
<line x1="86.37" y1="509.3" x2="73.9" y2="516.5" stroke="#262626" stroke-width="1"/>
<line x1="73.9" y1="516.5" x2="61.43" y2="509.3" stroke="#262626" stroke-width="1"/>
<line x1="61.43" y1="509.3" x2="61.43" y2="494.9" stroke="#262626" stroke-width="1"/>
<line x1="61.43" y1="494.9" x2="73.9" y2="487.7" stroke="#262626" stroke-width="1"/>
<line x1="63.83" y1="497.2" x2="63.83" y2="507" stroke="#262626" stroke-width="1"/>
<line x1="74.7" y1="490.93" x2="83.18" y2="495.83" stroke="#262626" stroke-width="1"/>
<line x1="83.18" y1="508.37" x2="74.7" y2="513.27" stroke="#262626" stroke-width="1"/>
<line x1="86.37" y1="494.9" x2="96.28" y2="491.8" stroke="#262626" stroke-width="1"/>
<line x1="102.36" y1="493.9" x2="108" y2="502.1" stroke="#262626" stroke-width="1"/>
<line x1="108" y1="502.1" x2="100.1" y2="513.7" stroke="#262626" stroke-width="1"/>
<line x1="105.08" y1="502.49" x2="99.39" y2="510.84" stroke="#262626" stroke-width="1"/>
<line x1="100.1" y1="513.7" x2="86.37" y2="509.3" stroke="#262626" stroke-width="1"/>
<text x="100.1" y="494.93" font-size="9.4" text-anchor="middle" fill="#222">N</text>
<text x="100.1" y="485.63" font-size="9.4" text-anchor="middle" fill="#222">H</text>
<line x1="100.1" y1="513.7" x2="103.2" y2="527" stroke="#262626" stroke-width="1"/>
<line x1="103.2" y1="527" x2="117.4" y2="530.2" stroke="#262626" stroke-width="1"/>
<line x1="116.29" y1="530.49" x2="118.94" y2="540.83" stroke="#262626" stroke-width="1"/>
<line x1="118.51" y1="529.91" x2="121.17" y2="540.26" stroke="#262626" stroke-width="1"/>
<text x="121.2" y="548.23" font-size="9.4" text-anchor="middle" fill="#222">O</text>
<line x1="117.4" y1="530.2" x2="124.23" y2="523.37" stroke="#262626" stroke-width="1"/>
<text x="127.2" y="523.63" font-size="9.4" text-anchor="middle" fill="#222">O</text>
<line x1="131.32" y1="521.23" x2="140.1" y2="523" stroke="#262626" stroke-width="1"/>
<line x1="140.1" y1="523" x2="151.4" y2="514.2" stroke="#262626" stroke-width="1"/>
<text x="146.2" y="490.49" font-size="10" font-style="italic" text-anchor="middle" fill="#FF0000">5</text>
<line x1="176.45" y1="499.4" x2="189.87" y2="507.15" stroke="#262626" stroke-width="1"/>
<line x1="189.87" y1="507.15" x2="189.87" y2="522.65" stroke="#262626" stroke-width="1"/>
<line x1="189.87" y1="522.65" x2="176.45" y2="530.4" stroke="#262626" stroke-width="1"/>
<line x1="176.45" y1="530.4" x2="163.03" y2="522.65" stroke="#262626" stroke-width="1"/>
<line x1="163.03" y1="522.65" x2="163.03" y2="507.15" stroke="#262626" stroke-width="1"/>
<line x1="163.03" y1="507.15" x2="176.45" y2="499.4" stroke="#262626" stroke-width="1"/>
<line x1="165.43" y1="509.63" x2="165.43" y2="520.17" stroke="#262626" stroke-width="1"/>
<line x1="177.4" y1="502.72" x2="186.53" y2="507.99" stroke="#262626" stroke-width="1"/>
<line x1="186.53" y1="521.81" x2="177.4" y2="527.08" stroke="#262626" stroke-width="1"/>
<line x1="189.87" y1="507.15" x2="203.3" y2="499.4" stroke="#262626" stroke-width="1"/>
<line x1="203.3" y1="499.4" x2="216.72" y2="507.15" stroke="#262626" stroke-width="1"/>
<line x1="216.72" y1="507.15" x2="216.72" y2="522.65" stroke="#262626" stroke-width="1"/>
<line x1="216.72" y1="522.65" x2="206.93" y2="528.3" stroke="#262626" stroke-width="1"/>
<line x1="199.66" y1="528.3" x2="189.87" y2="522.65" stroke="#262626" stroke-width="1"/>
<line x1="204.24" y1="502.72" x2="213.37" y2="507.99" stroke="#262626" stroke-width="1"/>
<line x1="213.37" y1="521.81" x2="206.6" y2="525.72" stroke="#262626" stroke-width="1"/>
<text x="203.3" y="534.31" font-size="10.2" text-anchor="middle" fill="#222">N</text>
<text x="200.3" y="490.89" font-size="10" font-style="italic" text-anchor="middle" fill="#FF0000">6</text>
<line x1="242.4" y1="497.6" x2="233.24" y2="503.21" stroke="#262626" stroke-width="1"/>
<line x1="230" y1="509" x2="230" y2="519.2" stroke="#262626" stroke-width="1"/>
<line x1="230" y1="519.2" x2="238.83" y2="524.46" stroke="#262626" stroke-width="1"/>
<line x1="245.39" y1="524.5" x2="254.9" y2="519" stroke="#262626" stroke-width="1"/>
<line x1="254.9" y1="519" x2="254.9" y2="504.2" stroke="#262626" stroke-width="1"/>
<line x1="254.9" y1="504.2" x2="242.4" y2="497.6" stroke="#262626" stroke-width="1"/>
<line x1="252.42" y1="505.27" x2="242.92" y2="500.25" stroke="#262626" stroke-width="1"/>
<line x1="232" y1="509" x2="232" y2="517.8" stroke="#262626" stroke-width="1"/>
<line x1="244.34" y1="522.68" x2="252.31" y2="518.07" stroke="#262626" stroke-width="1"/>
<line x1="254.9" y1="504.2" x2="264.42" y2="501.75" stroke="#262626" stroke-width="1"/>
<line x1="270.59" y1="503.67" x2="277.2" y2="511.3" stroke="#262626" stroke-width="1"/>
<line x1="277.2" y1="511.3" x2="270.16" y2="520.22" stroke="#262626" stroke-width="1"/>
<line x1="264.19" y1="522.02" x2="254.9" y2="519" stroke="#262626" stroke-width="1"/>
<line x1="269" y1="505.05" x2="274.7" y2="511.63" stroke="#262626" stroke-width="1"/>
<line x1="242.4" y1="497.6" x2="242.4" y2="489.2" stroke="#262626" stroke-width="1"/>
<line x1="269.1" y1="526.77" x2="271" y2="532" stroke="#262626" stroke-width="1"/>
<text x="230" y="508.63" font-size="9.4" text-anchor="middle" fill="#222">N</text>
<text x="242.1" y="530.03" font-size="9.4" text-anchor="middle" fill="#222">N</text>
<text x="268.1" y="504.03" font-size="9.4" text-anchor="middle" fill="#222">N</text>
<text x="267.8" y="526.43" font-size="9.4" text-anchor="middle" fill="#222">N</text>
<text x="238.8" y="487.2" font-size="9.4" fill="#222">NH<tspan dy="2.2" font-size="6.5">2</tspan></text>
<text x="268.6" y="540.2" font-size="9.4" fill="#222">OH</text>
<text x="270.8" y="490.69" font-size="10" font-style="italic" text-anchor="middle" fill="#FF0000">7</text>
<line x1="88" y1="577.2" x2="94.3" y2="580" stroke="#262626" stroke-width="1"/>
<line x1="94.3" y1="580" x2="103.9" y2="574.6" stroke="#262626" stroke-width="1"/>
<line x1="103.9" y1="574.6" x2="114.7" y2="580.6" stroke="#262626" stroke-width="1"/>
<line x1="114.7" y1="580.6" x2="126.4" y2="574.6" stroke="#262626" stroke-width="1"/>
<line x1="93.2" y1="579.98" x2="92.99" y2="589.58" stroke="#262626" stroke-width="1"/>
<line x1="95.4" y1="580.02" x2="95.19" y2="589.63" stroke="#262626" stroke-width="1"/>
<text x="93.9" y="596.9" font-size="9.6" text-anchor="middle" fill="#222">O</text>
<line x1="127.5" y1="574.6" x2="127.5" y2="565.6" stroke="#262626" stroke-width="1"/>
<line x1="125.3" y1="574.6" x2="125.3" y2="565.6" stroke="#262626" stroke-width="1"/>
<text x="126.4" y="564.9" font-size="9.6" text-anchor="middle" fill="#222">O</text>
<line x1="126.4" y1="574.6" x2="137" y2="580.6" stroke="#262626" stroke-width="1"/>
<text x="136.8" y="583.9" font-size="9.6" fill="#222">OH</text>
<line x1="114.7" y1="580.6" x2="114.7" y2="589" stroke="#262626" stroke-width="1"/>
<text x="112.8" y="596.9" font-size="9.6" fill="#222">NH<tspan dy="2.2" font-size="6.5">2</tspan></text>
<text x="87.4" y="577.7" font-size="9.6" text-anchor="end" fill="#222">HO</text>
<text x="146.4" y="564.89" font-size="10" font-style="italic" text-anchor="middle" fill="#FF0000">8</text>
<line x1="197.8" y1="579.6" x2="204.7" y2="575.7" stroke="#262626" stroke-width="1"/>
<line x1="204.7" y1="575.7" x2="216" y2="581.3" stroke="#262626" stroke-width="1"/>
<line x1="216" y1="581.3" x2="226.4" y2="574.9" stroke="#262626" stroke-width="1"/>
<line x1="226.4" y1="574.9" x2="238.4" y2="581.3" stroke="#262626" stroke-width="1"/>
<line x1="238.4" y1="581.3" x2="248.9" y2="575.7" stroke="#262626" stroke-width="1"/>
<line x1="205.8" y1="575.7" x2="205.8" y2="566" stroke="#262626" stroke-width="1"/>
<line x1="203.6" y1="575.7" x2="203.6" y2="566" stroke="#262626" stroke-width="1"/>
<text x="204.7" y="565.3" font-size="9.6" text-anchor="middle" fill="#222">O</text>
<line x1="250" y1="575.7" x2="250" y2="566" stroke="#262626" stroke-width="1"/>
<line x1="247.8" y1="575.7" x2="247.8" y2="566" stroke="#262626" stroke-width="1"/>
<text x="248.9" y="565.3" font-size="9.6" text-anchor="middle" fill="#222">O</text>
<line x1="248.9" y1="575.7" x2="259.5" y2="580" stroke="#262626" stroke-width="1"/>
<text x="259.3" y="584.6" font-size="9.6" fill="#222">OH</text>
<line x1="216" y1="581.3" x2="216" y2="590" stroke="#262626" stroke-width="1"/>
<text x="212.7" y="597.9" font-size="9.6" fill="#222">NH<tspan dy="2.2" font-size="6.5">2</tspan></text>
<text x="197" y="584.6" font-size="9.6" text-anchor="end" fill="#222">HO</text>
<text x="270.5" y="563.59" font-size="10" font-style="italic" text-anchor="middle" fill="#FF0000">9</text>
<line x1="87.6" y1="629.4" x2="95.8" y2="624.8" stroke="#262626" stroke-width="1"/>
<line x1="95.8" y1="624.8" x2="106.7" y2="630.7" stroke="#262626" stroke-width="1"/>
<line x1="106.7" y1="630.7" x2="116.9" y2="624.8" stroke="#262626" stroke-width="1"/>
<line x1="118" y1="624.8" x2="118" y2="615.8" stroke="#262626" stroke-width="1"/>
<line x1="115.8" y1="624.8" x2="115.8" y2="615.8" stroke="#262626" stroke-width="1"/>
<text x="116.9" y="615.1" font-size="9.6" text-anchor="middle" fill="#222">O</text>
<line x1="116.9" y1="624.8" x2="127.2" y2="630.2" stroke="#262626" stroke-width="1"/>
<text x="127" y="634.3" font-size="9.6" fill="#222">OH</text>
<line x1="106.7" y1="630.7" x2="106.7" y2="639.5" stroke="#262626" stroke-width="1"/>
<text x="103.1" y="647.1" font-size="9.6" fill="#222">NH<tspan dy="2.2" font-size="6.5">2</tspan></text>
<text x="87" y="634.3" font-size="9.6" text-anchor="end" fill="#222">HO</text>
<text x="149.3" y="619.99" font-size="10" font-style="italic" text-anchor="middle" fill="#FF0000">10</text>
<line x1="193.5" y1="624.1" x2="204.7" y2="630.5" stroke="#262626" stroke-width="1"/>
<line x1="204.7" y1="630.5" x2="204.7" y2="644.2" stroke="#262626" stroke-width="1"/>
<line x1="204.7" y1="630.5" x2="216" y2="624.1" stroke="#262626" stroke-width="1"/>
<line x1="216" y1="624.1" x2="226.4" y2="630.5" stroke="#262626" stroke-width="1"/>
<line x1="226.4" y1="630.5" x2="238.4" y2="624.1" stroke="#262626" stroke-width="1"/>
<line x1="239.5" y1="624.1" x2="239.5" y2="615.3" stroke="#262626" stroke-width="1"/>
<line x1="237.3" y1="624.1" x2="237.3" y2="615.3" stroke="#262626" stroke-width="1"/>
<text x="238.4" y="614.6" font-size="9.6" text-anchor="middle" fill="#222">O</text>
<line x1="238.4" y1="624.1" x2="248.7" y2="630" stroke="#262626" stroke-width="1"/>
<text x="248.5" y="634.6" font-size="9.6" fill="#222">OH</text>
<line x1="226.4" y1="630.5" x2="226.4" y2="639.5" stroke="#262626" stroke-width="1"/>
<text x="224" y="647.5" font-size="9.6" fill="#222">NH<tspan dy="2.2" font-size="6.5">2</tspan></text>
<text x="273" y="620.09" font-size="10" font-style="italic" text-anchor="middle" fill="#FF0000">11</text>
</svg></body></html>
